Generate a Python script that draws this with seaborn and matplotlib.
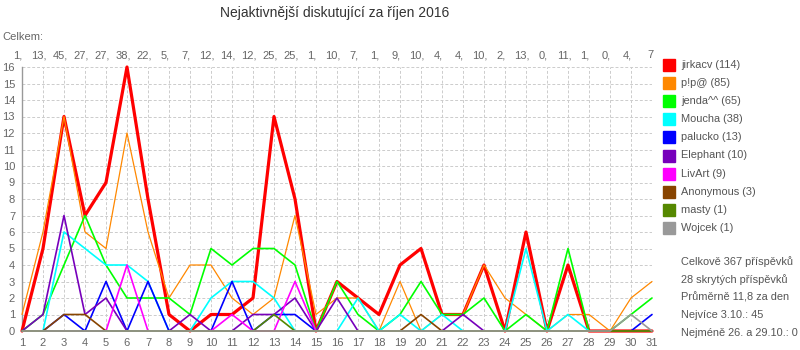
import matplotlib
matplotlib.use("Agg")
import matplotlib.pyplot as plt
import matplotlib.transforms as mtransforms
import seaborn as sns
import pandas as pd

days = list(range(1, 32))
totals = [1, 13, 45, 27, 27, 38, 22, 5, 7, 12, 14, 12, 25, 25, 1, 10, 7, 1, 9, 10,
          4, 4, 10, 2, 13, 0, 11, 1, 0, 4, 7]

names = ["jirkacv", "p!p@", "jenda^^", "Moucha", "palucko", "Elephant", "LivArt",
         "Anonymous", "masty", "Wojcek"]
counts = [114, 85, 65, 38, 13, 10, 9, 3, 1, 1]

jirkacv = [0, 5, 13, 7, 9, 16, 8, 1, 0, 1, 1, 2, 13, 8, 0, 3, 2, 1, 4, 5, 1, 1, 4, 0, 6, 0, 4, 0, 0, 0, 0]
pip = [1, 6, 13, 6, 5, 12, 6, 2, 4, 4, 2, 1, 2, 7, 1, 2, 2, 0, 3, 0, 1, 1, 4, 2, 1, 0, 1, 1, 0, 2, 3]
jenda = [0, 1, 4, 7, 4, 2, 2, 2, 1, 5, 4, 5, 5, 4, 0, 3, 1, 0, 1, 3, 1, 1, 2, 0, 1, 0, 5, 0, 0, 1, 2]
moucha = [0, 0, 6, 5, 4, 4, 3, 0, 0, 2, 3, 3, 2, 0, 0, 0, 2, 0, 1, 0, 1, 0, 0, 0, 5, 0, 1, 0, 0, 0, 0]
palucko = [0, 0, 1, 0, 3, 0, 3, 0, 0, 0, 3, 0, 1, 1, 0, 0, 0, 0, 0, 0, 0, 0, 0, 0, 0, 0, 0, 0, 0, 0, 1]
elephant = [0, 1, 7, 1, 2, 0, 0, 0, 1, 0, 0, 1, 1, 2, 0, 2, 0, 0, 0, 0, 0, 1, 0, 0, 0, 0, 0, 0, 0, 0, 0]
livart = [0, 0, 0, 0, 0, 4, 0, 0, 0, 0, 1, 0, 0, 3, 0, 0, 0, 0, 0, 0, 0, 0, 0, 0, 0, 0, 0, 0, 0, 0, 0]
anonymous = [0, 0, 1, 1, 0, 0, 0, 0, 0, 0, 0, 0, 0, 0, 0, 0, 0, 0, 0, 1, 0, 0, 0, 0, 0, 0, 0, 0, 0, 0, 0]
masty = [0, 0, 0, 0, 0, 0, 0, 0, 0, 0, 0, 0, 1, 0, 0, 0, 0, 0, 0, 0, 0, 0, 0, 0, 0, 0, 0, 0, 0, 0, 0]
wojcek = [0, 0, 0, 0, 0, 0, 0, 0, 0, 0, 0, 0, 0, 0, 0, 0, 0, 0, 0, 0, 0, 0, 0, 0, 0, 0, 0, 0, 0, 1, 0]

series = [jirkacv, pip, jenda, moucha, palucko, elephant, livart, anonymous, masty, wojcek]
colors = ["#ff0000", "#ff8800", "#00ff00", "#00ffff", "#0000ff", "#7700bb", "#ff00ff",
          "#884400", "#558800", "#999999"]
widths = [2.3, 0.9, 1.2, 1.2, 1.2, 1.2, 1.2, 1.2, 1.2, 1.2]

stats = ["Celkově 367 příspěvků", "28 skrytých příspěvků", "Průměrně 11,8 za den",
         "Nejvíce 3.10.: 45", "Nejméně 26. a 29.10.: 0"]
title = "Nejaktivnější diskutující za říjen 2016"

sns.set_style("white")
plt.rcParams["font.family"] = ["Liberation Sans", "DejaVu Sans"]
txtc = "#555555"

W, H = 800, 350
fig = plt.figure(figsize=(8, 3.5), dpi=100)
ax = fig.add_axes([22 / W, (H - 331) / H, (652 - 22) / W, (331 - 67) / H])

for name, vals, c, w in zip(names, series, colors, widths):
    df = pd.DataFrame({"day": days, "value": vals})
    sns.lineplot(data=df, x="day", y="value", color=c, linewidth=w, ax=ax,
                 clip_on=False, legend=False, zorder=3)

ax.set_xlim(1, 31)
ax.set_ylim(0, 16)
ax.set_xticks(days)
ax.set_yticks(range(0, 17))
ax.set_xlabel("")
ax.set_ylabel("")
ax.grid(True, color="#cccccc", linestyle=(0, (3, 2)), linewidth=0.7)
ax.set_axisbelow(True)
for s in ["top", "right"]:
    ax.spines[s].set_visible(False)
ax.spines["left"].set_color("#999999")
ax.spines["bottom"].set_color("#999999")
ax.spines["left"].set_linewidth(1)
ax.spines["bottom"].set_linewidth(1.2)
ax.tick_params(axis="both", colors="#999999", labelcolor="#666666", labelsize=8,
               length=3, width=0.8, pad=2)

# totals row, each label sits just left of its day
trans = mtransforms.blended_transform_factory(ax.transData, ax.transAxes)
for i, (d, t) in enumerate(zip(days, totals)):
    last = i == len(days) - 1
    lab = f"{t}" if last else f"{t},"
    tr = mtransforms.offset_copy(trans, fig=fig, x=-2 if last else -4, y=0, units="dots")
    ax.text(d, (331 - 55) / 264, lab, transform=tr, ha="center", va="center",
            fontsize=8, color="#666666", clip_on=False)

fig.text(2 / W, 1 - 37 / H, "Celkem:", fontsize=8, color="#666666", ha="left", va="center")
fig.text(335 / W, 1 - 13 / H, title, fontsize=10, color="#333333", ha="center", va="center")

# legend
for i, (name, cnt, c) in enumerate(zip(names, counts, colors)):
    yc = 64.5 + i * 18.2
    fig.patches.append(plt.Rectangle((663 / W, 1 - (yc + 6) / H), 12 / W, 12 / H,
                                     transform=fig.transFigure, color=c, figure=fig))
    fig.text(681 / W, 1 - yc / H, f"{name} ({cnt})", fontsize=7.9, color=txtc,
             ha="left", va="center")

for i, s in enumerate(stats):
    yc = 262 + i * 17.7
    fig.text(681 / W, 1 - yc / H, s, fontsize=7.9, color=txtc, ha="left", va="center")

fig.savefig("out.png", dpi=100)
